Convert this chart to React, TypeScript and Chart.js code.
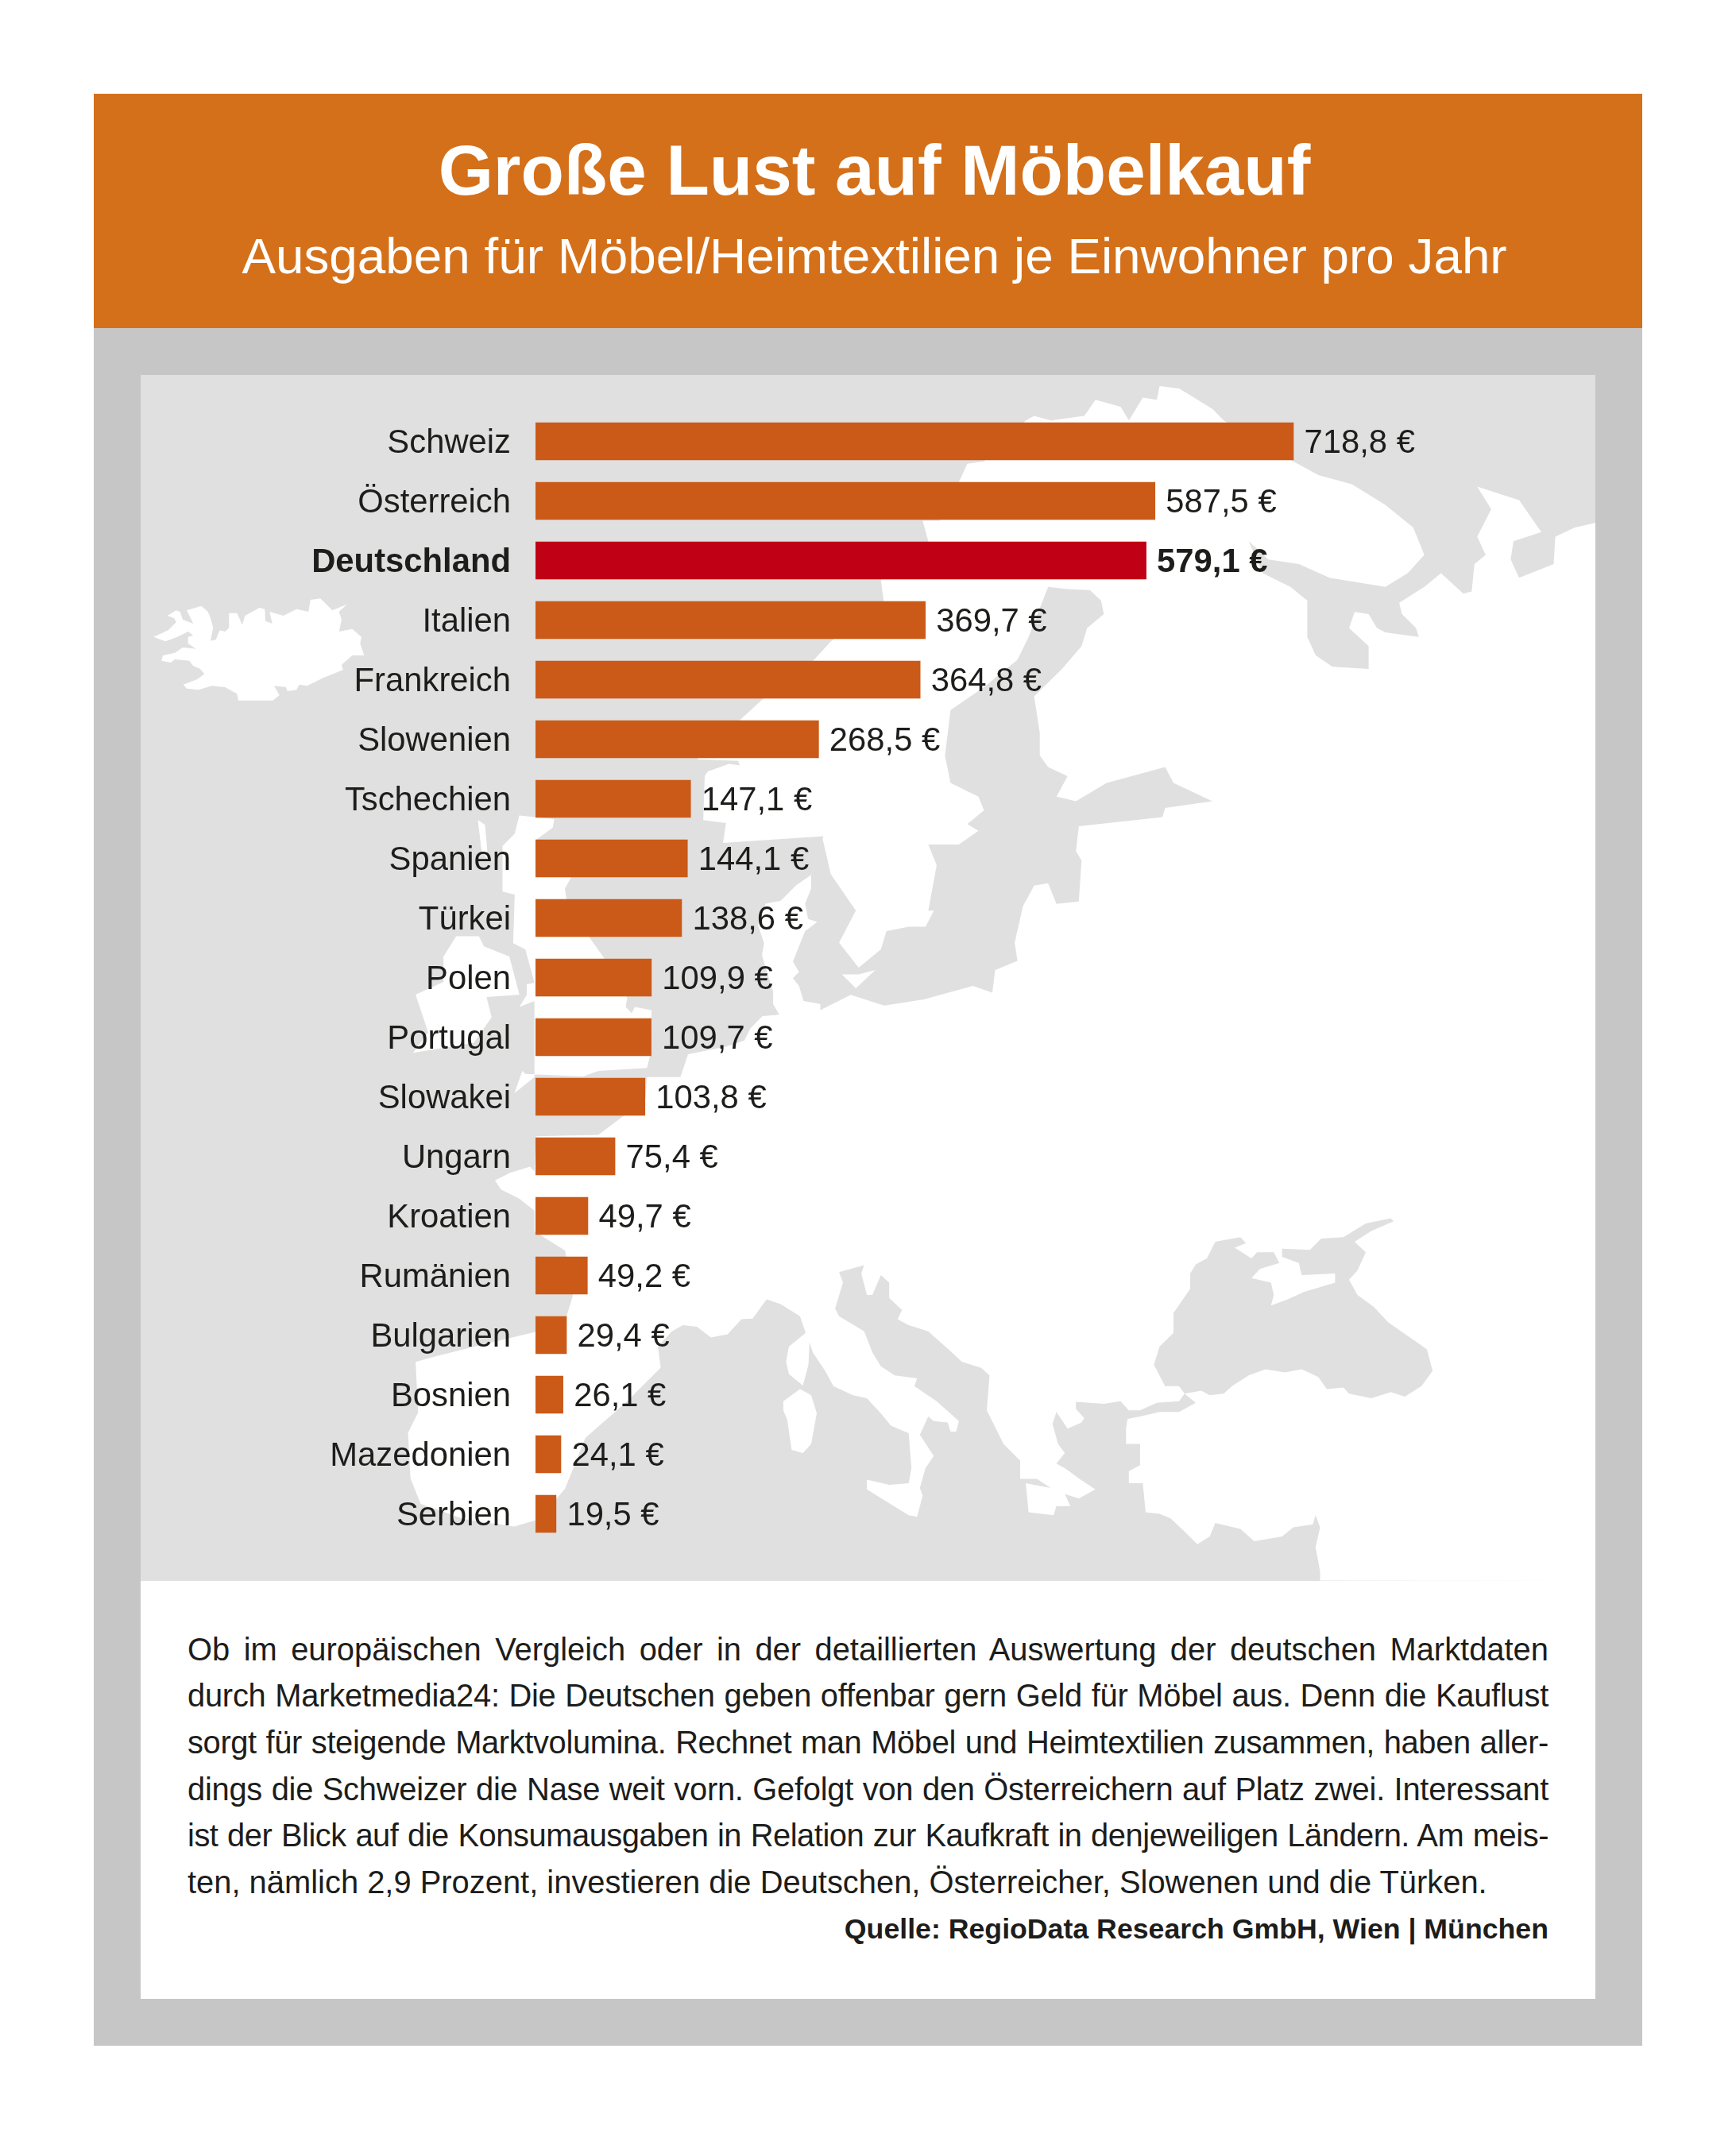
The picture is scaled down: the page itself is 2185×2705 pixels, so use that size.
import React, { useEffect, useRef } from "react";
import { Chart, registerables } from "chart.js";

Chart.register(...registerables);

const categories = ["Schweiz","Österreich","Deutschland","Italien","Frankreich","Slowenien","Tschechien","Spanien","Türkei","Polen","Portugal","Slowakei","Ungarn","Kroatien","Rumänien","Bulgarien","Bosnien","Mazedonien","Serbien"];
const spending = [718.8,587.5,579.1,369.7,364.8,268.5,147.1,144.1,138.6,109.9,109.7,103.8,75.4,49.7,49.2,29.4,26.1,24.1,19.5];
const highlighted = "Deutschland";

const title = "Große Lust auf Möbelkauf";
const subtitle = "Ausgaben für Möbel/Heimtextilien je Einwohner pro Jahr";
const bodyLines = [
  "Ob im europäischen Vergleich oder in der detaillierten Auswertung der deutschen Marktdaten",
  "durch Marketmedia24: Die Deutschen geben offenbar gern Geld für Möbel aus. Denn die Kauflust",
  "sorgt für steigende Marktvolumina. Rechnet man Möbel und Heimtextilien zusammen, haben aller-",
  "dings die Schweizer die Nase weit vorn. Gefolgt von den Österreichern auf Platz zwei. Interessant",
  "ist der Blick auf die Konsumausgaben in Relation zur Kaufkraft in denjeweiligen Ländern. Am meis-",
  "ten, nämlich 2,9 Prozent, investieren die Deutschen, Österreicher, Slowenen und die Türken.",
];
const source = "Quelle: RegioData Research GmbH, Wien | München";

const FONT = '"Liberation Sans", Arial, sans-serif';
const INK = "#1d1d1b";
const BAR = "#cb5a18";
const BAR_HI = "#c00015";
const SEA = "#e0e0e0";

// Background map outline: [offsetX, offsetY, scaleX, scaleY] of the sketch grids it was traced on.
type Grid = [number, number, number, number];
const G2: Grid = [1000, 400, 1.4255, 1.742];
const G3: Grid = [150, 1000, 1.568, 1.568];
const G4: Grid = [800, 1450, 1.4255, 2.613];
const G6: Grid = [180, 720, 3, 3];
const G7: Grid = [600, 950, 2.613, 2.613];
const seg = (g: Grid, p: number[]) => {
  const out: string[] = [];
  for (let i = 0; i < p.length; i += 2) out.push(`${(g[0] + p[i] / g[2]).toFixed(1)},${(g[1] + p[i + 1] / g[3]).toFixed(1)}`);
  return out.join(" ");
};

const mainland = [
  seg(G2, [1437,450,1400,460,1365,480,1362,540,1300,570,1285,530,1290,490,1340,470,1300,400,1225,370,1250,420,1225,480,1240,520,1220,540,1215,600,1200,605,1160,560,1130,590,1085,625,1090,650,1115,680,1120,700,1060,690,1045,680,1030,650,1005,645,995,680,1030,720,1030,770,965,765,935,740,920,700,920,620,890,590,840,560,815,490,850,530,905,540,960,570,1060,590,1100,560,1130,520,1110,460,1060,410,1000,365,940,345,895,315,770,225,750,200,710,170,690,155,655,150,650,180,625,175,600,225,585,195,540,180,520,215,460,225,430,215,415,225,340,315,310,320,295,360,260,445,230,445,240,490,155,575,160,620,65,710,35,750]),
  "960,880",
  seg(G7, [725,15,860,20,865,35,830,30,760,55,750,70,745,215,820,225,810,290,1140,268,1100,395,1050,430,1000,480,950,490,925,560,945,620,938,660,975,780,975,820,995,855,940,860,900,900,880,940,820,960,695,985,670,1060,560,1060,555,1130,480,1190,400,1250,195,1255,190,1370,175,1355,110,1375,60,1400,80,1430,140,1460,190,1500,190,1568]),
  seg(G3, [880,900,895,990,880,1040,825,1060,720,1085,620,1110,585,1120,590,1220,570,1260,575,1350,595,1400,680,1430,780,1445,830,1430,880,1370,920,1270,1000,1200,1068,1132]),
  seg(G4, [45,710,40,640,65,590,85,570,110,575,135,610,165,600,190,550,210,548,235,485,260,500,295,540,305,595,275,640,270,690,275,730,300,768,310,700,312,625,318,660,340,720,355,770,390,800,415,810,440,860,458,900,490,925,495,1040,490,1090,455,1095,415,1078,415,1110,450,1150,490,1195,505,1200,515,1130,510,1105,520,1040,535,1000,510,930,525,870,535,885,560,890,565,920,575,920,580,885,540,820,500,770,505,745,465,735,440,705,425,660,410,590,365,540,358,515,372,430,365,395,410,372,405,400,415,470,425,470,440,405,455,430,455,480,478,520,470,550,490,570,525,590,565,655,585,690,620,710,635,735,630,850,645,905,660,960,690,1015,690,1075,720,1075,745,1105,700,1090,705,1185,750,1195,755,1165,780,1165,770,1125,795,1140,825,1110,800,1080,770,1040,755,1025,770,990,758,960,748,895,755,855,775,910,800,890,805,875,790,845,790,822,840,828,870,820,885,850,880,910,880,960,905,960,905,1030,885,1050,885,1090,910,1090,915,1185,940,1190,960,1205,980,1240,1008,1290,1030,1265,1040,1220,1085,1240,1110,1280,1160,1265,1180,1235,1215,1225,1220,1195,1228,1235,1220,1300,1228,1380,1228,1410]),
  "2008,1990",
].join(" ");

const landIslands = [
  seg(G6, [40,245,95,220,125,190,118,175,92,165,125,145,140,150,150,180,190,195,165,145,220,128,245,150,255,175,265,210,255,260,275,255,290,220,310,225,325,210,325,155,355,155,375,200,385,165,440,135,460,140,462,185,488,195,478,150,530,165,580,140,625,150,632,105,670,100,715,145,770,122,740,150,750,180,740,225,790,215,825,245,820,270,835,315,790,315,750,350,755,370,680,400,620,430,590,425,580,445,545,450,540,435,495,430,515,465,490,485,360,485,355,460,310,435,260,430,210,445,165,440,152,425,205,405,232,385,215,365,190,355,175,335,120,330,105,342,70,335,75,315,120,305,150,285,200,290,170,270,170,245,190,240,170,225,130,245,85,262]),
  seg(G7, [140,200,255,212,250,240,195,280,310,405,290,440,295,475,370,600,420,670,495,800,490,830,510,850,520,830,575,840,570,990,560,1030,400,1040,350,1058,160,1050,150,1040,124,1113,190,1060,190,1000,190,810,140,830,165,790,165,755,190,750,160,640,120,620,125,460,85,450,85,300,125,260]),
  seg(G3, [665,280,710,280,720,300,770,320,790,395,725,400,735,440,700,490,580,510,610,470,585,395,640,370,640,320]),
  seg(G3, [708,50,722,60,728,130,715,110]),
  seg(G4, [265,820,295,780,315,800,325,860,315,960,300,990,280,980,272,880,265,850]),
];

const seas = [
  seg(G2, [455,590,420,700,400,750,340,810,280,860,270,960,280,1020,330,1050,340,1080,310,1110,330,1125,295,1155,240,1155,255,1200,240,1300,250,1300,235,1335,205,1335,165,1345,155,1385,115,1425,80,1370,110,1300,65,1220,50,1140,35,1200])
    + " " + seg(G7, [1100,395,1100,440,1080,490,1090,540,1120,550,1080,580,1040,680,1060,715,1040,735,1060,760,1075,810,1130,820,1130,840,1170,820,1230,790,1340,825,1470,805])
    + " " + seg(G2, [320,1465,355,1480,360,1430,400,1410,395,1370,410,1290,430,1245,455,1240,470,1285,510,1280,515,1190,505,1170,510,1115,660,1095,665,1075,750,1060,680,1020,665,985,560,1020,505,1060,470,1050,490,1005,455,985,440,960,440,910,430,830,480,770,515,720,525,680,555,650,550,620,530,597,490,595]),
  seg(G4, [1040,295,1085,280,1095,300,1075,315,1105,350,1115,330,1145,330,1155,365,1120,385,1105,415,1140,430,1145,470,1140,505,1170,485,1200,460,1255,430,1255,400,1195,405,1190,365,1160,345,1160,318,1210,322,1230,285,1270,280,1310,235,1355,218,1360,228,1320,260,1290,295,1310,330,1295,390,1280,420,1295,470,1325,510,1350,560,1405,630,1420,650,1430,720,1410,770,1380,805,1355,790,1320,810,1280,795,1270,775,1240,780,1225,740,1195,715,1165,725,1130,715,1100,735,1070,770,1055,795,1030,800,1015,785,985,795,975,770,950,770,930,700,940,640,965,595,965,530,995,450,995,400,1005,370,1025,350]),
  seg(G4, [985,795,975,820,935,825,905,850,885,850,878,880,905,870,940,855,975,855,1005,825]),
];
const balticIsland = seg(G2, [85,1440,110,1470,145,1430,115,1440]);

const BODY_SIZE = 39.9;
const BODY_WIDTH = 1713;
const fitSpacing = (line: string) => {
  const c = document.createElement("canvas").getContext("2d")!;
  c.font = `${BODY_SIZE}px ${FONT}`;
  const w = c.measureText(line).width;
  return w > BODY_WIDTH - 12 ? (BODY_WIDTH - 12 - w) / line.length : 0;
};

const Txt = ({ text, baseline, size, bold, left, width, align, spacing, last }: any) => (
  <div style={{
    position: "absolute", left, width, top: baseline - size * 1.3465, fontSize: size, lineHeight: `${size * 2}px`,
    fontWeight: bold ? 700 : 400, textAlign: align, textAlignLast: last, letterSpacing: spacing, whiteSpace: "nowrap", fontFamily: FONT,
    color: "inherit",
  }}>{text}</div>
);

export default function App() {
  const ref = useRef<HTMLCanvasElement>(null);
  useEffect(() => {
    const isHi = (i: number) => categories[i] === highlighted;
    const valueLabels = {
      id: "valueLabels",
      afterDatasetsDraw(chart: any) {
        const { ctx } = chart;
        const meta = chart.getDatasetMeta(0);
        ctx.save();
        ctx.textAlign = "left";
        ctx.textBaseline = "middle";
        ctx.fillStyle = INK;
        meta.data.forEach((bar: any, i: number) => {
          ctx.font = `${isHi(i) ? "700 " : ""}41.8px ${FONT}`;
          const label = spending[i].toFixed(1).replace(".", ",") + " €";
          ctx.fillText(label, bar.x + 13.5, bar.y + 3);
        });
        ctx.restore();
      },
    };
    const chart = new Chart(ref.current!, {
      type: "bar",
      data: {
        labels: categories,
        datasets: [{
          data: spending,
          backgroundColor: categories.map((_, i) => (isHi(i) ? BAR_HI : BAR)),
          barThickness: 47,
          borderWidth: 0,
        }],
      },
      plugins: [valueLabels],
      options: {
        indexAxis: "y",
        animation: false,
        responsive: false,
        devicePixelRatio: 1,
        layout: { padding: { left: 0, top: 46, right: 6.8, bottom: 47 } },
        plugins: { legend: { display: false }, tooltip: { enabled: false }, title: { display: false } },
        scales: {
          x: { display: false, min: 0, max: 1000 },
          y: {
            grid: { display: false },
            border: { display: false },
            afterFit(scale: any) { scale.width = 497; scale.paddingTop = 0; scale.paddingBottom = 0; },
            ticks: {
              color: INK,
              padding: 23,
              labelOffset: 3,
              autoSkip: false,
              font: (c: any) => ({ family: FONT, size: 41.8, weight: isHi(c.index) ? "700" : "400" }),
            },
          },
        },
      },
    } as any);
    return () => chart.destroy();
  }, []);

  return (
    <div style={{ position: "absolute", left: 0, top: 0, width: 2185, height: 2705, background: "#fff", overflow: "hidden", fontFamily: FONT }}>
      <div style={{ position: "absolute", left: 118, top: 118, width: 1949, height: 2457, background: "#c6c6c6" }} />
      <div style={{ position: "absolute", left: 118, top: 118, width: 1949, height: 295, background: "#d4701a", color: "#fff" }} />
      <div style={{ color: "#fff" }}>
        <Txt text={title} baseline={244.5} size={89} bold left={126} width={1949} align="center" />
        <Txt text={subtitle} baseline={345} size={63.8} left={126} width={1949} align="center" />
      </div>
      <div style={{ position: "absolute", left: 177, top: 472, width: 1831, height: 2044, background: "#fff" }} />
      <svg width={1831} height={1518} viewBox="177 472 1831 1518" style={{ position: "absolute", left: 177, top: 472, background: SEA }}>
        <polygon points={mainland} fill="#fff" />
        {landIslands.map((p, i) => <polygon key={i} points={p} fill="#fff" />)}
        {seas.map((p, i) => <polygon key={i} points={p} fill={SEA} />)}
        <polygon points={balticIsland} fill="#fff" />
      </svg>
      <canvas ref={ref} width={1831} height={1518} style={{ position: "absolute", left: 177, top: 472, width: 1831, height: 1518 }} />
      <div style={{ color: INK }}>
        {bodyLines.map((line, i) => (
          <Txt key={i} text={line} baseline={2090.5 + i * 58.6} size={BODY_SIZE} left={236} width={BODY_WIDTH}
            spacing={fitSpacing(line)}
            align="left" last={i < bodyLines.length - 1 ? "justify" : "left"} />
        ))}
        <Txt text={source} baseline={2441.5} size={35.7} bold left={236} width={BODY_WIDTH} align="right" />
      </div>
    </div>
  );
}
